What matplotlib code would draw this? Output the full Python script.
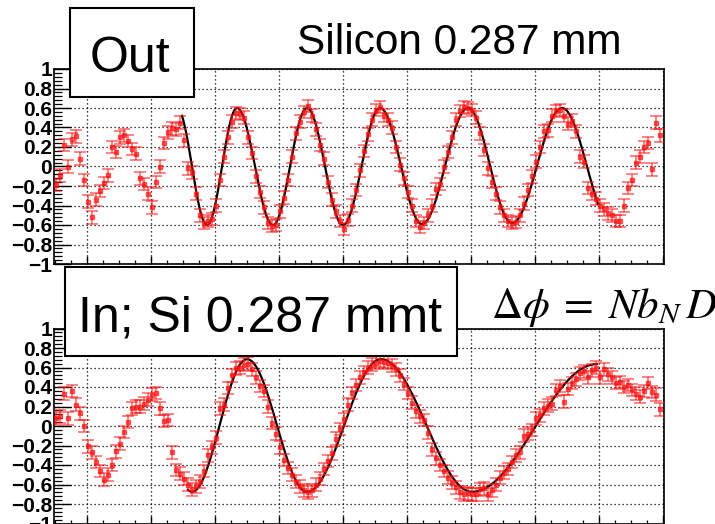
import numpy as np
import matplotlib
matplotlib.use("Agg")
import matplotlib.pyplot as plt
from matplotlib.patches import Rectangle
from matplotlib.ticker import MultipleLocator, FuncFormatter

plt.rcParams["font.family"] = ["Liberation Sans", "DejaVu Sans"]
plt.rcParams["mathtext.fontset"] = "stix"

W, H = 715, 524

# ---------------------------------------------------------------- data
# scan positions (common grid for both scans)
x_start, x_stop, n_points = -0.484, 8.953, 152

out_signal = [
    -0.19, -0.09, 0.22, 0.00, 0.28, 0.31, 0.08, -0.14, -0.36, -0.52, -0.34, -0.25, -0.17, -0.09, 0.20, 0.15,
    0.30, 0.32, 0.26, 0.18, 0.13, -0.12, -0.18, -0.28, -0.42, -0.16, 0.00, 0.24, 0.35, 0.39, 0.38, 0.45,
    0.27, -0.02, -0.06, -0.28, -0.50, -0.58, -0.56, -0.54, -0.40, -0.14, 0.10, 0.30, 0.46, 0.55, 0.54, 0.50,
    0.30, 0.14, -0.10, -0.26, -0.42, -0.58, -0.61, -0.60, -0.46, -0.32, -0.14, 0.10, 0.34, 0.46, 0.56, 0.62,
    0.52, 0.38, 0.22, 0.08, -0.16, -0.34, -0.46, -0.56, -0.64, -0.55, -0.40, -0.24, -0.04, 0.16, 0.33, 0.48,
    0.58, 0.61, 0.52, 0.48, 0.40, 0.20, 0.02, -0.12, -0.26, -0.40, -0.56, -0.62, -0.58, -0.50, -0.40, -0.23,
    -0.18, 0.00, 0.15, 0.30, 0.48, 0.57, 0.61, 0.60, 0.58, 0.50, 0.34, 0.17, -0.02, -0.16, -0.28, -0.42,
    -0.50, -0.56, -0.58, -0.57, -0.50, -0.38, -0.24, -0.10, 0.05, 0.20, 0.36, 0.37, 0.52, 0.57, 0.58, 0.52,
    0.44, 0.47, 0.36, 0.10, 0.05, -0.22, -0.28, -0.33, -0.40, -0.44, -0.48, -0.50, -0.56, -0.56, -0.40, -0.22,
    -0.14, 0.04, 0.10, 0.20, 0.24, -0.03, 0.45, 0.32,
]

in_signal = [
    0.08, 0.10, 0.33, 0.08, 0.36, 0.22, 0.13, 0.00, -0.21, -0.27, -0.37, -0.46, -0.55, -0.50, -0.40, -0.26,
    -0.18, -0.06, 0.04, 0.18, 0.20, 0.20, 0.23, 0.27, 0.32, 0.34, 0.18, 0.05, 0.06, -0.27, -0.45, -0.49,
    -0.54, -0.60, -0.65, -0.62, -0.57, -0.46, -0.30, -0.22, -0.12, 0.18, 0.22, 0.39, 0.52, 0.59, 0.60, 0.63,
    0.64, 0.58, 0.50, 0.41, 0.36, 0.20, 0.03, -0.08, -0.22, -0.35, -0.43, -0.50, -0.57, -0.62, -0.66, -0.68,
    -0.66, -0.60, -0.54, -0.44, -0.36, -0.28, -0.13, -0.03, 0.07, 0.22, 0.34, 0.42, 0.50, 0.55, 0.60, 0.63,
    0.65, 0.67, 0.66, 0.65, 0.62, 0.58, 0.52, 0.43, 0.34, 0.24, 0.15, 0.10, 0.06, -0.07, -0.24, -0.33,
    -0.40, -0.46, -0.53, -0.58, -0.63, -0.68, -0.70, -0.69, -0.70, -0.70, -0.65, -0.64, -0.70, -0.66, -0.60, -0.53,
    -0.48, -0.44, -0.37, -0.30, -0.27, -0.10, -0.08, -0.04, 0.08, 0.11, 0.18, 0.21, 0.23, 0.37, 0.41, 0.25,
    0.38, 0.44, 0.48, 0.54, 0.56, 0.50, 0.57, 0.60, 0.50, 0.58, 0.53, 0.50, 0.44, 0.45, 0.40, 0.42,
    0.37, 0.33, 0.30, 0.36, 0.44, 0.35, 0.32, 0.17,
]

signal_error = 0.065

# fitted curves: positions and heights of successive extrema, and fit range
out_fit_x = [1.406, 1.875, 2.344, 2.906, 3.438, 4.000, 4.578, 5.234, 5.953, 6.641, 7.422, 8.203]
out_fit_y = [0.60, -0.60, 0.60, -0.60, 0.60, -0.60, 0.60, -0.59, 0.60, -0.58, 0.60, -0.60]
out_fit_range = (1.484, 7.984)

in_fit_x = [0.828, 1.641, 2.500, 3.438, 4.594, 6.016, 7.969, 9.890]
in_fit_y = [0.685, -0.675, 0.685, -0.675, 0.685, -0.675, 0.635, -0.600]
in_fit_range = (1.578, 7.969)


def fit_curve(ext_x, ext_y, xs):
    ext_x = np.asarray(ext_x)
    ext_y = np.asarray(ext_y)
    i = np.clip(np.searchsorted(ext_x, xs) - 1, 0, len(ext_x) - 2)
    t = (xs - ext_x[i]) / (ext_x[i + 1] - ext_x[i])
    return ext_y[i] + (ext_y[i + 1] - ext_y[i]) * (1 - np.cos(np.pi * t)) / 2


def ylabel_fmt(v, _):
    if abs(v) < 1e-9:
        return "0"
    return f"{v:g}".replace("-", "\u2212")


def style_axes(ax):
    ax.set_xlim(-0.516, 9.016)
    ax.set_ylim(-1, 1)
    ax.xaxis.set_major_locator(MultipleLocator(1))
    ax.xaxis.set_minor_locator(MultipleLocator(0.25))
    ax.yaxis.set_major_locator(MultipleLocator(0.2))
    ax.yaxis.set_minor_locator(MultipleLocator(0.04))
    ax.yaxis.set_major_formatter(FuncFormatter(ylabel_fmt))
    ax.tick_params(axis="y", which="major", direction="in", length=12.5, width=1.0,
                   labelsize=15, pad=1.5, left=True, right=False)
    ax.tick_params(axis="y", which="minor", direction="in", length=6, width=0.9,
                   left=True, right=False)
    ax.tick_params(axis="x", which="major", direction="in", length=5.5, width=1.0,
                   labelbottom=False, bottom=True, top=False)
    ax.tick_params(axis="x", which="minor", direction="in", length=3, width=0.9,
                   bottom=True, top=False)
    for lab in ax.get_yticklabels():
        lab.set_fontweight("bold")
    ax.grid(True, which="major", linestyle=(0, (1, 2.2)), color="black", linewidth=0.9)
    for s in ax.spines.values():
        s.set_linewidth(1.2)
        s.set_color("black")
    ax.set_axisbelow(True)


def draw_scan(ax, values, ext_x, ext_y, rng):
    xs = np.linspace(x_start, x_stop, n_points)
    xf = np.linspace(rng[0], rng[1], 600)
    ax.plot(xf, fit_curve(ext_x, ext_y, xf), color="black", lw=1.6, zorder=3)
    ax.errorbar(xs, values, yerr=signal_error, fmt="s", ms=2.6, color="#ff1010",
                ecolor="#ff1010", elinewidth=1.1, capsize=4.0, capthick=1.1,
                alpha=0.65, zorder=4)


fig = plt.figure(figsize=(W / 100, H / 100), dpi=100)

ax_out = fig.add_axes([54 / W, (H - 264) / H, 610 / W, 195 / H])
ax_in = fig.add_axes([54 / W, (H - 523.5) / H, 610 / W, 195 / H])

for ax in (ax_out, ax_in):
    style_axes(ax)

draw_scan(ax_out, out_signal, out_fit_x, out_fit_y, out_fit_range)
draw_scan(ax_in, in_signal, in_fit_x, in_fit_y, in_fit_range)


def label_box(x0, y0, x1, y1):
    fig.add_artist(Rectangle((x0 / W, 1 - y1 / H), (x1 - x0) / W, (y1 - y0) / H,
                             transform=fig.transFigure, facecolor="white",
                             edgecolor="black", lw=1.5, zorder=10))


label_box(70, 8, 194, 97)
fig.text(90 / W, 1 - 72 / H, "Out", fontsize=36, ha="left", va="baseline", zorder=11)

fig.text(297 / W, 1 - 54 / H, "Silicon 0.287 mm", fontsize=30.5, ha="left",
         va="baseline", zorder=11)

label_box(65, 267, 457, 356)
fig.text(78 / W, 1 - 332 / H, "In; Si 0.287 mmt", fontsize=36, ha="left",
         va="baseline", zorder=11)

fig.text(491 / W, 1 - 318 / H, r"$\Delta\phi\;=\;Nb_{N}\,D$", fontsize=31,
         ha="left", va="baseline", zorder=11)

fig.savefig("out.png", dpi=100)
